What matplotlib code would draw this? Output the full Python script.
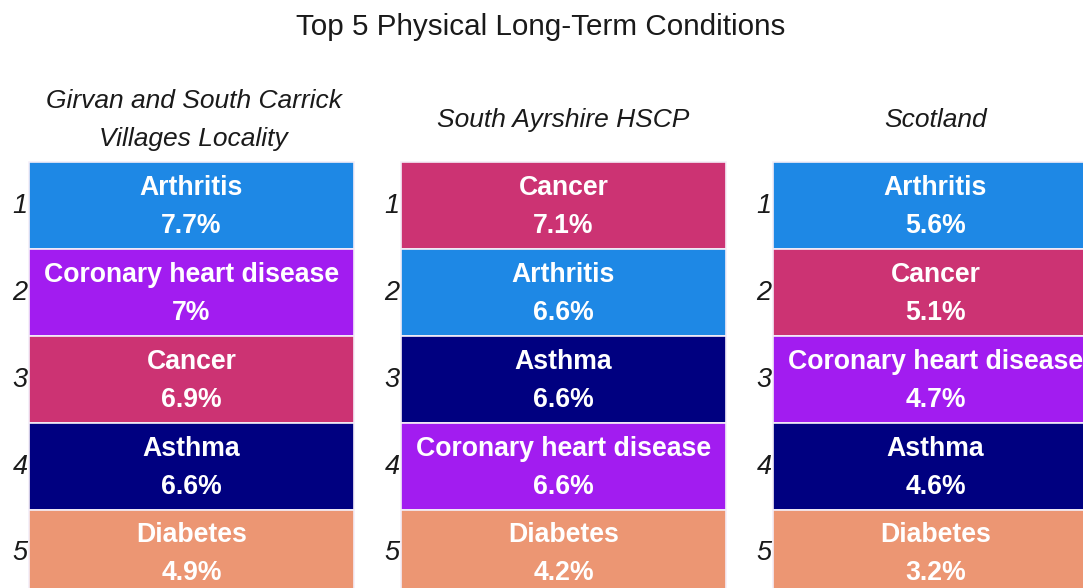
import matplotlib
matplotlib.use("Agg")
import matplotlib.pyplot as plt
from matplotlib.patches import Rectangle

plt.rcParams['font.family'] = ['Liberation Sans', 'DejaVu Sans']

title = "Top 5 Physical Long-Term Conditions"
areas = ["Girvan and South Carrick\nVillages Locality", "South Ayrshire HSCP", "Scotland"]
ranks = [1, 2, 3, 4, 5]
locality_conditions = ["Arthritis", "Coronary heart disease", "Cancer", "Asthma", "Diabetes"]
locality_values = [7.7, 7.0, 6.9, 6.6, 4.9]
hscp_conditions = ["Cancer", "Arthritis", "Asthma", "Coronary heart disease", "Diabetes"]
hscp_values = [7.1, 6.6, 6.6, 6.6, 4.2]
scotland_conditions = ["Arthritis", "Cancer", "Coronary heart disease", "Asthma", "Diabetes"]
scotland_values = [5.6, 5.1, 4.7, 4.6, 3.2]

colours = {
    "Arthritis": "#1E88E5",
    "Cancer": "#CC3373",
    "Coronary heart disease": "#A21CF0",
    "Asthma": "#000080",
    "Diabetes": "#EC9673",
}

def fmt(v):
    s = f"{v:.1f}"
    if s.endswith(".0"):
        s = s[:-2]
    return s + "%"

W, H = 1083, 588
fig = plt.figure(figsize=(W / 100, H / 100), dpi=100)
fig.text(541 / W, 1 - 27 / H, title, ha='center', va='center', fontsize=21.3, color='#1a1a1a')

panels = [(locality_conditions, locality_values), (hscp_conditions, hscp_values),
          (scotland_conditions, scotland_values)]
lefts = [29, 401, 773]
tile_w = 325
top = 162
row_h = 87
for i, (conds, vals) in enumerate(panels):
    ax = fig.add_axes([lefts[i] / W, 1 - (top + 5 * row_h) / H, tile_w / W, 5 * row_h / H])
    ax.set_xlim(0, 1)
    ax.set_ylim(5, 0)
    ax.axis('off')
    for r, (c, v) in enumerate(zip(conds, vals)):
        ax.add_patch(Rectangle((0, r), 1, 1, facecolor=colours[c], edgecolor='#f4eef8',
                               linewidth=1.2, clip_on=False))
        ax.text(0.5, r + 0.5 - 18 / row_h, c, ha='center', va='center', color='white',
                fontsize=19.2, fontweight='bold')
        ax.text(0.5, r + 0.5 + 20 / row_h, fmt(v), ha='center', va='center', color='white',
                fontsize=19.2, fontweight='bold')
        ax.text(-1.5 / tile_w, r + 0.5, str(ranks[r]), ha='right', va='center',
                fontsize=19.5, fontstyle='italic', color='#1a1a1a')
    cx = (lefts[i] + tile_w / 2) / W
    fig.text(193.5 / W if i == 0 else cx, 1 - 120 / H, areas[i], ha='center', va='center',
             fontsize=19, fontstyle='italic', linespacing=1.75, color='#1a1a1a')

fig.savefig("out.png", dpi=100)
